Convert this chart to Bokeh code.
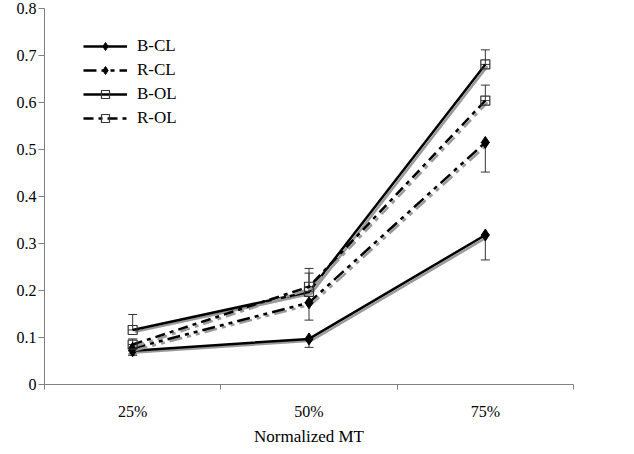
from bokeh.plotting import figure
from bokeh.models import (FixedTicker, Whisker, ColumnDataSource, Legend, LegendItem, TeeHead,
                          LinearAxis)
from bokeh.embed import file_html
from bokeh.resources import INLINE

categories = ["25%", "50%", "75%"]
series_names = ["B-CL", "R-CL", "B-OL", "R-OL"]
b_cl = [0.072, 0.097, 0.318]
r_cl = [0.077, 0.174, 0.515]
b_ol = [0.116, 0.197, 0.681]
r_ol = [0.085, 0.208, 0.604]
# one-sided error bars: CL downward, OL upward
b_cl_err = [0.010, 0.018, 0.053]
r_cl_err = [0.012, 0.037, 0.063]
b_ol_err = [0.033, 0.040, 0.031]
r_ol_err = [0.012, 0.039, 0.033]
y_ticks = [0, 0.1, 0.2, 0.3, 0.4, 0.5, 0.6, 0.7, 0.8]

FONT = "Liberation Serif"
x = [i + 0.5 for i in range(len(categories))]
bounds = list(range(len(categories) + 1))

p = figure(frame_width=529, frame_height=376, x_range=(0, len(categories)), y_range=(0, 0.8),
           output_backend="svg", toolbar_location=None, x_axis_location=None, y_axis_location=None,
           min_border_left=44, min_border_right=40, min_border_top=8, min_border_bottom=40)
p.outline_line_color = None
p.xgrid.visible = False
p.ygrid.visible = False
p.background_fill_color = "white"

# x axis line with ticks at category boundaries
ax_ticks = LinearAxis(ticker=FixedTicker(ticks=bounds, minor_ticks=[]),
                      major_label_overrides={b: "" for b in bounds},
                      major_tick_out=5, major_tick_in=0, major_label_standoff=0,
                      major_label_text_font_size="1px",
                      axis_line_color="#808080", major_tick_line_color="#808080")
p.add_layout(ax_ticks, "below")
# category labels at centres
ax_cats = LinearAxis(ticker=FixedTicker(ticks=x, minor_ticks=[]),
                     major_label_overrides={v: c for v, c in zip(x, categories)},
                     major_tick_out=0, major_tick_in=0, major_label_standoff=13,
                     axis_line_color=None, major_tick_line_color=None,
                     axis_label="Normalized MT", axis_label_standoff=4)
ax_cats.major_label_text_font = FONT
ax_cats.major_label_text_font_size = "16px"
ax_cats.major_label_text_color = "black"
ax_cats.axis_label_text_font = FONT
ax_cats.axis_label_text_font_size = "17px"
ax_cats.axis_label_text_font_style = "normal"
ax_cats.axis_label_text_color = "black"
p.add_layout(ax_cats, "below")

ax_y = LinearAxis(ticker=FixedTicker(ticks=y_ticks, minor_ticks=[]),
                  major_label_overrides={v: ("0" if v == 0 else f"{v:.1f}") for v in y_ticks},
                  major_tick_out=6, major_tick_in=0, major_label_standoff=2,
                  axis_line_color="#808080", major_tick_line_color="#808080")
ax_y.major_label_text_font = FONT
ax_y.major_label_text_font_size = "16px"
ax_y.major_label_text_color = "black"
p.add_layout(ax_y, "left")

styles = [
    (b_cl, b_cl_err, "solid", "diamond", True, False),
    (r_cl, r_cl_err, "13 5 4 5 4 5", "diamond", True, False),
    (b_ol, b_ol_err, "solid", "square", False, True),
    (r_ol, r_ol_err, "10 5 4 5", "square", False, True),
]

items = []
for name, (vals, errs, dash, marker, filled, up) in zip(series_names, styles):
    # shadow
    p.line([xi + 0.012 for xi in x], [v - 0.004 for v in vals], line_color="#9a9a9a",
           line_width=2.5, line_dash=dash)
    if up:
        lower = vals
        upper = [v + e for v, e in zip(vals, errs)]
    else:
        lower = [v - e for v, e in zip(vals, errs)]
        upper = vals
    src = ColumnDataSource(dict(x=x, lower=lower, upper=upper))
    w = Whisker(base="x", lower="lower", upper="upper", source=src, line_color="#333333", line_width=1,
                upper_head=TeeHead(size=9, line_color="#333333", line_width=1),
                lower_head=TeeHead(size=9, line_color="#333333", line_width=1))
    p.add_layout(w)
    ln = p.line(x, vals, line_color="black", line_width=2.5, line_dash=dash)
    if filled:
        sc = p.scatter(x, vals, marker=marker, size=12, fill_color="black", line_color="black")
    else:
        sc = p.scatter(x, vals, marker=marker, size=9, fill_color=None, line_color="#333333", line_width=1.2)
    items.append(LegendItem(label=name, renderers=[ln, sc]))

legend = Legend(items=items, border_line_color=None, background_fill_alpha=0,
                label_text_font=FONT, label_text_font_size="17px", label_text_color="black",
                glyph_width=44, glyph_height=20,
                label_standoff=10, spacing=4, padding=0, margin=0, location=(39, 256))
p.add_layout(legend)

open("out.html", "w").write(file_html(p, INLINE))
